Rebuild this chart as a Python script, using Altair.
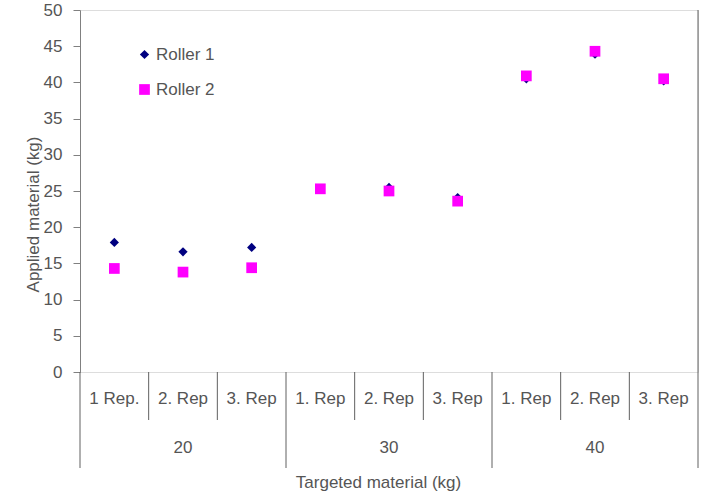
import altair as alt
import pandas as pd

groups = ["20", "30", "40"]
reps = [["1 Rep.", "2. Rep", "3. Rep"], ["1. Rep", "2. Rep", "3. Rep"], ["1. Rep", "2. Rep", "3. Rep"]]
roller1 = [17.9, 16.6, 17.2, 25.3, 25.5, 24.1, 40.5, 43.9, 40.2]
roller2 = [14.3, 13.8, 14.4, 25.3, 25.0, 23.6, 40.9, 44.3, 40.5]
series = ["Roller 1", "Roller 2"]

FONT = "Liberation Sans"
TXT = "#555555"
FS = 17
W, H = 618, 362

slots = []
for gi, g in enumerate(groups):
    for ri, r in enumerate(reps[gi]):
        slots.append({"slot": f"{g}|{ri}", "rep": r, "group": g, "ri": ri})
slot_order = [s["slot"] for s in slots]
slot_df = pd.DataFrame(slots)

rows = []
for name, vals in zip(series, [roller1, roller2]):
    for s, v in zip(slots, vals):
        rows.append({"slot": s["slot"], "series": name, "value": v})
pts = pd.DataFrame(rows)

xscale = alt.Scale(domain=slot_order, paddingInner=0, paddingOuter=0)

def leg():
    return alt.Legend(title=None, orient="none", legendX=56, legendY=36,
                      labelFont=FONT, labelFontSize=FS, labelColor=TXT,
                      rowPadding=17, labelOffset=3, padding=0)

points = alt.Chart(pts).mark_point(filled=True, opacity=1, strokeWidth=0).encode(
    x=alt.X("slot:N", scale=xscale, sort=slot_order,
            axis=alt.Axis(labels=False, ticks=False, domain=False,
                          title="Targeted material (kg)", titleFont=FONT,
                          titleFontSize=FS, titleFontWeight="normal", titleColor=TXT,
                          titleX=298, titleY=102, titleBaseline="top")),
    y=alt.Y("value:Q", scale=alt.Scale(domain=[0, 50]),
            axis=alt.Axis(values=list(range(0, 51, 5)), grid=False, tickSize=7,
                          tickColor="#808080", domainColor="#808080",
                          labelFont=FONT, labelFontSize=FS, labelColor=TXT,
                          labelPadding=11,
                          title="Applied material (kg)", titleFont=FONT,
                          titleFontSize=FS, titleFontWeight="normal", titleColor=TXT,
                          titleX=-47, titleY=204, titleAngle=270,
                          titleAlign="center", titleBaseline="middle")),
    color=alt.Color("series:N", scale=alt.Scale(domain=series, range=["#000080", "#FF00FF"]),
                    legend=leg()),
    shape=alt.Shape("series:N", scale=alt.Scale(domain=series, range=["diamond", "square"]),
                    legend=leg()),
    size=alt.Size("series:N", scale=alt.Scale(domain=series, range=[85, 115]),
                  legend=leg()),
)

base = alt.Chart(slot_df)

inner_sep = base.transform_filter("datum.ri > 0").mark_rule(color="#606060", strokeWidth=1).encode(
    x=alt.X("slot:N", scale=xscale, sort=slot_order, bandPosition=0),
    y=alt.value(H), y2=alt.value(H + 48),
)
group_sep = base.transform_filter("datum.ri == 0").mark_rule(color="#606060", strokeWidth=1).encode(
    x=alt.X("slot:N", scale=xscale, sort=slot_order, bandPosition=0),
    y=alt.value(H), y2=alt.value(H + 96),
)
right_sep = base.transform_filter(f"datum.slot == '{slot_order[-1]}'").mark_rule(color="#606060", strokeWidth=1).encode(
    x=alt.X("slot:N", scale=xscale, sort=slot_order, bandPosition=1),
    y=alt.value(0), y2=alt.value(H + 96),
)

rep_labels = base.mark_text(font=FONT, fontSize=FS, color=TXT, baseline="middle").encode(
    x=alt.X("slot:N", scale=xscale, sort=slot_order),
    y=alt.value(H + 27),
    text="rep:N",
)
group_labels = base.transform_filter("datum.ri == 1").mark_text(font=FONT, fontSize=FS, color=TXT, baseline="middle").encode(
    x=alt.X("slot:N", scale=xscale, sort=slot_order),
    y=alt.value(H + 76),
    text="group:N",
)

chart = alt.layer(points, inner_sep, group_sep, right_sep, rep_labels, group_labels).properties(
    width=W, height=H,
    autosize=alt.AutoSizeParams(type="none"),
    padding={"left": 80, "top": 10, "right": 6, "bottom": 120},
).configure_view(stroke="#a0a0a0", strokeWidth=1).configure(background="white")

chart.save("out.html", embed_options={"renderer": "svg", "actions": False})
